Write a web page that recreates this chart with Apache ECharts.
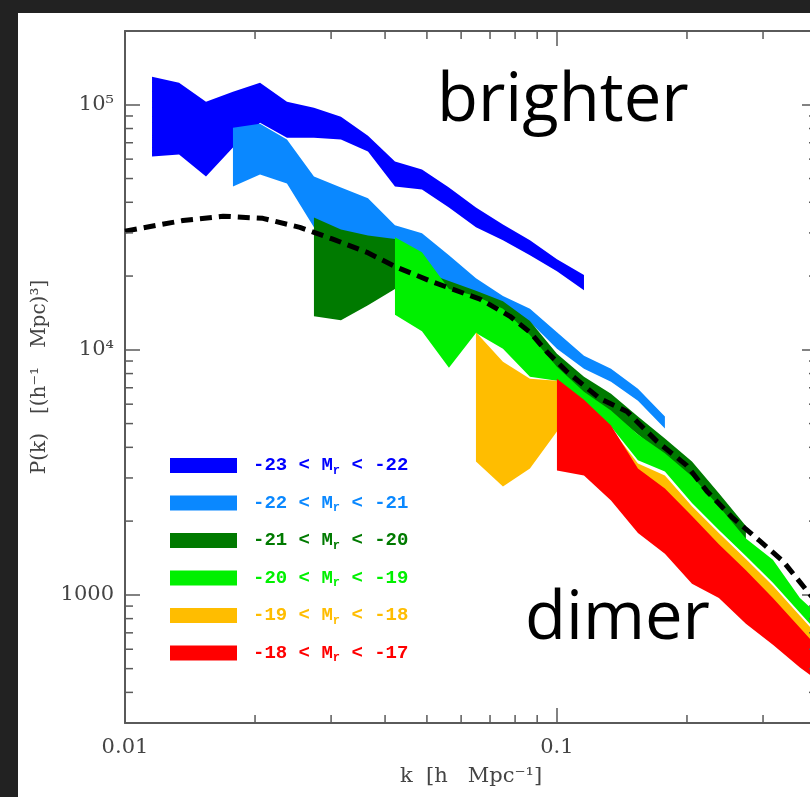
<!DOCTYPE html>
<html>
<head>
<meta charset="utf-8">
<script src="https://cdn.jsdelivr.net/npm/echarts@6/dist/echarts.min.js"></script>
<style>
  html, body { margin: 0; padding: 0; background: #222222; width: 810px; height: 797px; overflow: hidden; }
  #chart { position: absolute; left: 18px; top: 13px; width: 802px; height: 784px; background: #ffffff; }
</style>
</head>
<body>
<div id="chart"></div>
<script>
(function() {
  'use strict';

  // k bins (h/Mpc), 16 per decade
  var K_GRID = [0.01155, 0.01334, 0.0154, 0.01778, 0.02054, 0.02371, 0.02738, 0.03162, 0.03652,
    0.04217, 0.0487, 0.05623, 0.06494, 0.07499, 0.0866, 0.1, 0.1155, 0.1334, 0.154, 0.1778,
    0.2054, 0.2371, 0.2738, 0.3162, 0.3652, 0.4217];

  // luminosity bins
  var LUM_BINS = ['-23 < M_r < -22', '-22 < M_r < -21', '-21 < M_r < -20',
    '-20 < M_r < -19', '-19 < M_r < -18', '-18 < M_r < -17'];
  var BAND_COLORS = ['#0000ff', '#0a88ff', '#007a00', '#00f000', '#ffbd00', '#ff0000'];
  // index of first k bin for each band
  var BAND_START = [0, 3, 6, 9, 12, 15];

  // upper / lower edge of each band, P(k) in (Mpc/h)^3
  var M23_HI = [130000, 122900, 102900, 112900, 122900, 102900, 97200, 89400, 74800, 58700, 54400, 46000, 38100, 32500, 28000, 23400, 20200];
  var M23_LO = [61500, 62600, 51000, 66900, 84500, 73400, 73400, 72100, 64400, 46400, 45100, 38100, 31600, 28000, 24300, 20900, 17500];
  var M22_HI = [80600, 83700, 72100, 51000, 46000, 41500, 32200, 29900, 24300, 19600, 16600, 14700, 11800, 9450, 8370, 6940, 5340];
  var M22_LO = [46400, 51900, 47700, 31600, 28300, 25700, 23000, 20900, 18600, 16100, 14400, 13000, 10100, 8370, 7410, 6200, 4770];
  var M21_HI = [34700, 31000, 29300, 28300, 20900, 19100, 17400, 15800, 13100, 9630, 7770, 6620, 5340, 4350, 3500, 2600, 1910];
  var M21_LO = [13700, 13200, 15200, 17700, 17400, 16400, 15000, 13400, 11100, 8210, 6560, 5540, 4510, 3670, 2990, 2200, 1580];
  var M20_HI = [28800, 25000, 17700, 16600, 14700, 11500, 8530, 6750, 5650, 4510, 3780, 3050, 2300, 1700, 1390, 972, 769];
  var M20_LO = [13900, 11900, 8450, 11700, 10100, 7770, 7480, 6030, 4860, 3540, 3190, 2370, 1840, 1440, 1120, 845, 638];
  var M19_HI = [11800, 8940, 7620, 7480, 5870, 4770, 3440, 3070, 2300, 1790, 1400, 1090, 822, 620];
  var M19_LO = [3500, 2770, 3280, 4640, 4860, 3960, 2850, 2550, 1910, 1480, 1160, 902, 681, 514];
  var M18_HI = [7620, 6260, 4910, 3280, 2720, 2100, 1610, 1260, 972, 734, 554];
  var M18_LO = [3220, 3070, 2430, 1790, 1470, 1110, 972, 762, 626, 505, 419];

  var BAND_HI = [M23_HI, M22_HI, M21_HI, M20_HI, M19_HI, M18_HI];
  var BAND_LO = [M23_LO, M22_LO, M21_LO, M20_LO, M19_LO, M18_LO];

  // model spectrum (dashed)
  var MODEL_K = [0.01, 0.01362, 0.01687, 0.02085, 0.0254, 0.03028, 0.03631, 0.04263, 0.05164, 0.06637,
    0.07786, 0.08659, 0.09484, 0.1054, 0.1258, 0.1452, 0.1704, 0.1999, 0.2224, 0.2553, 0.2948, 0.3334, 0.379, 0.4];
  var MODEL_P = [30500, 33700, 35100, 34400, 31600, 28300, 25000, 21700, 18900, 16100,
    13700, 11800, 9800, 8150, 6320, 5600, 4230, 3370, 2650, 2060, 1660, 1375, 1040, 927];

  // minor tick values
  var X_MINOR = [0.02, 0.03, 0.04, 0.05, 0.06, 0.07, 0.08, 0.09, 0.2, 0.3];
  var Y_MINOR = [400, 500, 600, 700, 800, 900, 2000, 3000, 4000, 5000, 6000, 7000, 8000, 9000,
    20000, 30000, 40000, 50000, 60000, 70000, 80000, 90000];

  var AXIS_COLOR = '#5a5a5a';
  var SERIF = 'DejaVu Serif';

  var chart = echarts.init(document.getElementById('chart'));

  function bandItem(params, api) {
    if (params.dataIndexInside !== 0) return null;
    var n = params.dataInsideLength;
    var top = [], bot = [];
    for (var i = 0; i < n; i++) {
      top.push(api.coord([api.value(0, i), api.value(1, i)]));
      bot.push(api.coord([api.value(0, i), api.value(2, i)]));
    }
    return {
      type: 'polygon',
      shape: { points: top.concat(bot.reverse()) },
      style: { fill: api.visual('color') }
    };
  }

  function xMinorItem(params, api) {
    var p = api.coord([api.value(0), 1000]);
    var cs = params.coordSys;
    var style = { stroke: AXIS_COLOR, lineWidth: 1.5 };
    return { type: 'group', children: [
      { type: 'line', shape: { x1: p[0], y1: cs.y + cs.height, x2: p[0], y2: cs.y + cs.height - 8 }, style: style },
      { type: 'line', shape: { x1: p[0], y1: cs.y, x2: p[0], y2: cs.y + 8 }, style: style }
    ] };
  }

  function yMinorItem(params, api) {
    var p = api.coord([0.1, api.value(0)]);
    var cs = params.coordSys;
    var style = { stroke: AXIS_COLOR, lineWidth: 1.5 };
    return { type: 'group', children: [
      { type: 'line', shape: { x1: cs.x, y1: p[1], x2: cs.x + 8, y2: p[1] }, style: style },
      { type: 'line', shape: { x1: cs.x + cs.width, y1: p[1], x2: cs.x + cs.width - 8, y2: p[1] }, style: style }
    ] };
  }

  var series = [];
  for (var b = 0; b < LUM_BINS.length; b++) {
    var data = [];
    for (var j = 0; j < BAND_HI[b].length; j++) {
      data.push([K_GRID[BAND_START[b] + j], BAND_HI[b][j], BAND_LO[b][j]]);
    }
    series.push({
      type: 'custom',
      name: LUM_BINS[b],
      renderItem: bandItem,
      itemStyle: { color: BAND_COLORS[b] },
      encode: { x: 0, y: [1, 2] },
      data: data,
      silent: true
    });
  }

  series.push({
    type: 'line',
    data: MODEL_K.map(function(k, i) { return [k, MODEL_P[i]]; }),
    showSymbol: false,
    lineStyle: { color: '#000000', width: 5, type: [12, 7] },
    silent: true,
    z: 5
  });

  series.push({
    type: 'custom',
    renderItem: xMinorItem,
    data: X_MINOR.map(function(v) { return [v]; }),
    encode: { x: 0 },
    silent: true,
    z: 6
  });
  series.push({
    type: 'custom',
    renderItem: yMinorItem,
    data: Y_MINOR.map(function(v) { return [v]; }),
    encode: { y: 0 },
    silent: true,
    z: 6
  });

  var axisLine = { show: true, lineStyle: { color: AXIS_COLOR, width: 2 } };
  var majorTick = { show: true, inside: true, length: 15, lineStyle: { color: AXIS_COLOR, width: 1.5 } };

  chart.setOption({
    animation: false,
    grid: { left: 107, top: 18, right: 3, bottom: 74 },
    legend: {
      orient: 'vertical',
      left: 147,
      top: 438,
      icon: 'rect',
      itemWidth: 67,
      itemHeight: 15,
      itemGap: 17,
      selectedMode: false,
      data: LUM_BINS.map(function(n, i) { return { name: n, textStyle: { color: BAND_COLORS[i] } }; }),
      formatter: function(name) {
        var parts = name.split('M_r');
        return '{n|' + parts[0] + 'M}{r|r}{n|' + parts[1] + '}';
      },
      textStyle: {
        padding: [0, 0, 0, 11],
        rich: {
          n: { fontFamily: 'Liberation Mono', fontSize: 19, fontWeight: 'bold' },
          r: { fontFamily: 'Liberation Mono', fontSize: 12, fontWeight: 'bold', padding: [10, 0, 0, 0] }
        }
      }
    },
    xAxis: [{
      type: 'log', min: 0.01, max: 0.4, logBase: 10,
      name: 'k  [h   Mpc⁻¹]', nameLocation: 'middle', nameGap: 43,
      nameTextStyle: { fontFamily: SERIF, fontSize: 21, color: '#444' },
      axisLine: axisLine, axisTick: majorTick, splitLine: { show: false },
      axisLabel: { fontFamily: SERIF, fontSize: 21, color: '#444', margin: 14, showMaxLabel: false,
        formatter: function(v) { return Math.round(Math.log10(v)) === -2 ? '0.01' : '0.1'; } }
    }, {
      type: 'log', min: 0.01, max: 0.4, logBase: 10, position: 'top',
      axisLine: axisLine, axisTick: majorTick, splitLine: { show: false }, axisLabel: { show: false }
    }],
    yAxis: [{
      type: 'log', min: 300, max: 200000, logBase: 10,
      name: 'P(k)   [(h⁻¹   Mpc)³]', nameLocation: 'middle', nameGap: 59,
      nameTextStyle: { fontFamily: SERIF, fontSize: 20, color: '#444' },
      axisLine: axisLine, axisTick: majorTick, splitLine: { show: false },
      axisLabel: { fontFamily: SERIF, fontSize: 21, color: '#444', margin: 11,
        showMinLabel: false, showMaxLabel: false,
        formatter: function(v) {
          var e = Math.round(Math.log10(v));
          if (e === 5) return '10⁵';
          if (e === 4) return '10⁴';
          return '1000';
        } }
    }, {
      type: 'log', min: 300, max: 200000, logBase: 10, position: 'right',
      axisLine: axisLine, axisTick: majorTick, splitLine: { show: false }, axisLabel: { show: false }
    }],
    graphic: [
      { type: 'text', left: 419, top: 55, silent: true,
        style: { text: 'brighter', font: '67px "Open Sans"', fill: '#000' } },
      { type: 'text', left: 507, top: 573, silent: true,
        style: { text: 'dimer', font: '67px "Open Sans"', fill: '#000' } }
    ],
    series: series
  });

  window.addEventListener('resize', function() { chart.resize(); });
})();
</script>
</body>
</html>
